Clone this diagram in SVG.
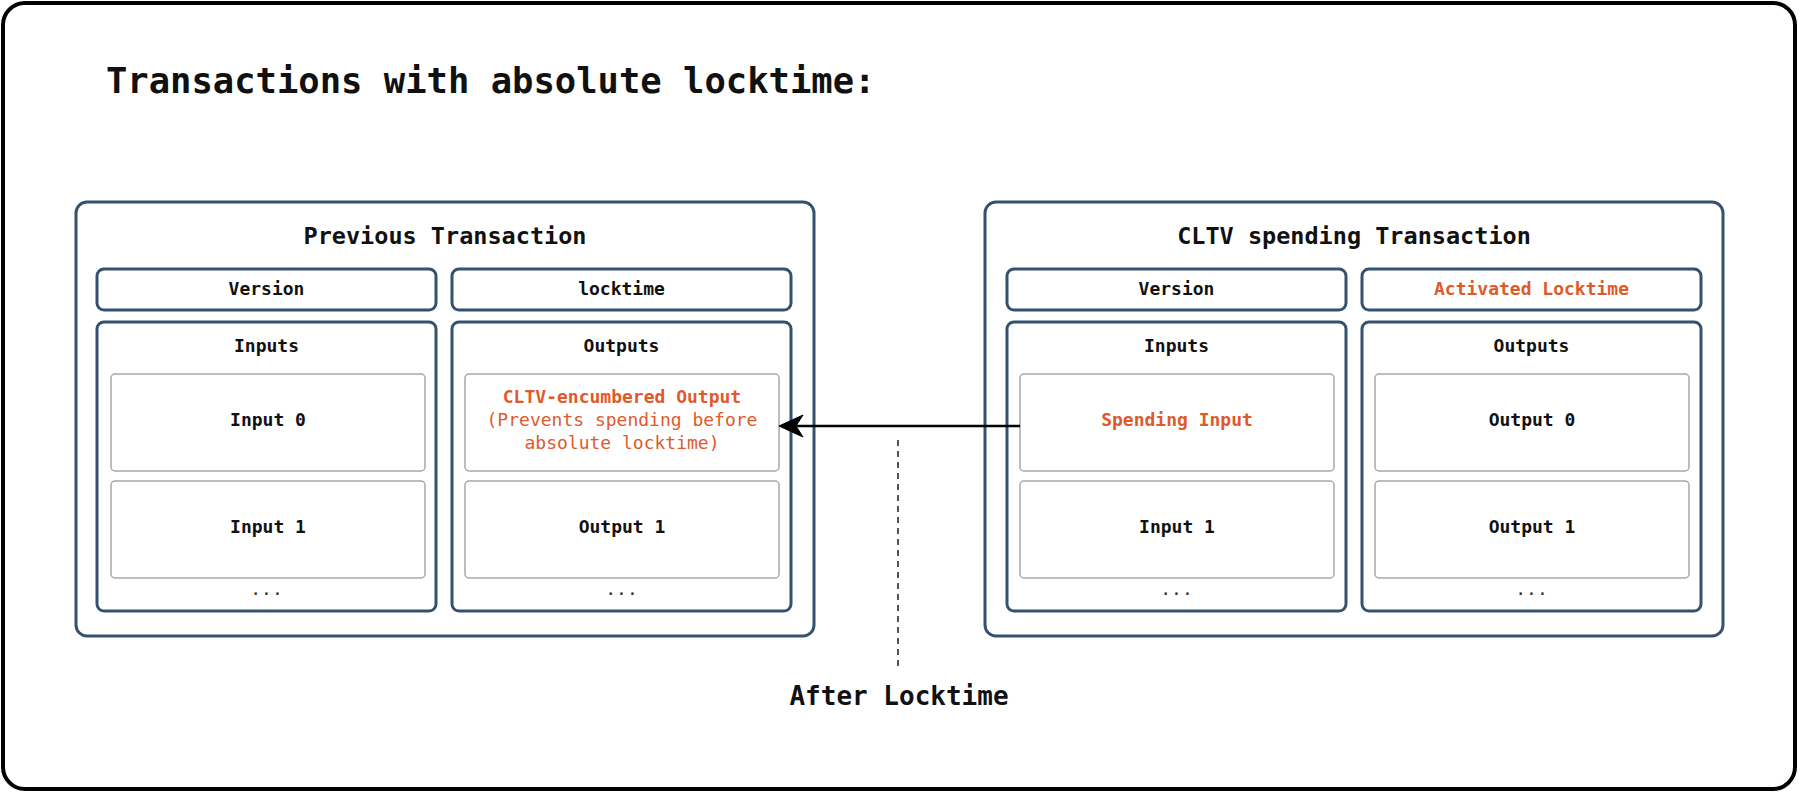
<svg xmlns="http://www.w3.org/2000/svg" width="1800" height="793" viewBox="0 0 1800 793">
<defs>
<style>
.frame{fill:#fff;stroke:#000;stroke-width:4}
.tx{fill:#fff;stroke:#34526f;stroke-width:3}
.sec{fill:#fff;stroke:#34526f;stroke-width:3}
.item{fill:#fff;stroke:#a8a8a8;stroke-width:1.5}
text{font-family:"DejaVu Sans Mono","Liberation Mono",monospace;fill:#111;text-anchor:middle}
.h1{font-size:35.5px;font-weight:bold;text-anchor:start}
.h2{font-size:23.5px;font-weight:bold}
.lb{font-size:18px;font-weight:bold}
.or{fill:#df5a2a}
.rg{font-weight:normal}
.dots{font-size:18px;fill:#333}
.big{font-size:26px;font-weight:bold}
</style>
</defs>
<rect class="frame" x="3" y="3" width="1792" height="786" rx="22"/>
<text class="h1" x="106" y="93">Transactions with absolute locktime:</text>

<g id="prev-tx">
<rect class="tx" x="76" y="202" width="738" height="434" rx="11"/>
<text class="h2" x="445" y="244">Previous Transaction</text>
<g id="prev-version"><rect class="sec" x="97" y="269" width="339" height="41" rx="7"/><text class="lb" x="266.5" y="295">Version</text></g>
<g id="prev-locktime"><rect class="sec" x="452" y="269" width="339" height="41" rx="7"/><text class="lb" x="621.5" y="295">locktime</text></g>
<g id="prev-inputs"><rect class="sec" x="97" y="322" width="339" height="289" rx="7"/><text class="lb" x="266.5" y="352">Inputs</text>
<rect class="item" x="111" y="374" width="314" height="97" rx="4"/><text class="lb" x="268" y="426">Input 0</text>
<rect class="item" x="111" y="481" width="314" height="97" rx="4"/><text class="lb" x="268" y="533">Input 1</text>
<text class="dots" x="266.5" y="595">...</text></g>
<g id="prev-outputs"><rect class="sec" x="452" y="322" width="339" height="289" rx="7"/><text class="lb" x="621.5" y="352">Outputs</text>
<g id="cltv-output"><rect class="item" x="465" y="374" width="314" height="97" rx="4"/>
<text class="lb or" x="622" y="403">CLTV-encumbered Output</text>
<text class="lb or rg" x="622" y="426">(Prevents spending before</text>
<text class="lb or rg" x="622" y="449">absolute locktime)</text></g>
<rect class="item" x="465" y="481" width="314" height="97" rx="4"/><text class="lb" x="622" y="533">Output 1</text>
<text class="dots" x="621.5" y="595">...</text></g>
</g>

<g id="spend-tx">
<rect class="tx" x="985" y="202" width="738" height="434" rx="11"/>
<text class="h2" x="1354" y="244">CLTV spending Transaction</text>
<g id="spend-version"><rect class="sec" x="1007" y="269" width="339" height="41" rx="7"/><text class="lb" x="1176.5" y="295">Version</text></g>
<g id="spend-locktime"><rect class="sec" x="1362" y="269" width="339" height="41" rx="7"/><text class="lb or" x="1531.5" y="295">Activated Locktime</text></g>
<g id="spend-inputs"><rect class="sec" x="1007" y="322" width="339" height="289" rx="7"/><text class="lb" x="1176.5" y="352">Inputs</text>
<g id="spending-input"><rect class="item" x="1020" y="374" width="314" height="97" rx="4"/><text class="lb or" x="1177" y="426">Spending Input</text></g>
<rect class="item" x="1020" y="481" width="314" height="97" rx="4"/><text class="lb" x="1177" y="533">Input 1</text>
<text class="dots" x="1176.5" y="595">...</text></g>
<g id="spend-outputs"><rect class="sec" x="1362" y="322" width="339" height="289" rx="7"/><text class="lb" x="1531.5" y="352">Outputs</text>
<rect class="item" x="1375" y="374" width="314" height="97" rx="4"/><text class="lb" x="1532" y="426">Output 0</text>
<rect class="item" x="1375" y="481" width="314" height="97" rx="4"/><text class="lb" x="1532" y="533">Output 1</text>
<text class="dots" x="1531.5" y="595">...</text></g>
</g>

<g id="connectors">
<line x1="1020" y1="426" x2="797" y2="426" stroke="#000" stroke-width="2.5"/>
<path d="M779,426 L803,415 L796,426 L803,437 Z" fill="#000" stroke="#000" stroke-width="1"/>
<line x1="898" y1="440" x2="898" y2="667" stroke="#555" stroke-width="2" stroke-dasharray="6 5"/>
</g>
<g id="after-locktime"><text class="big" x="899" y="705">After Locktime</text></g>
</svg>
